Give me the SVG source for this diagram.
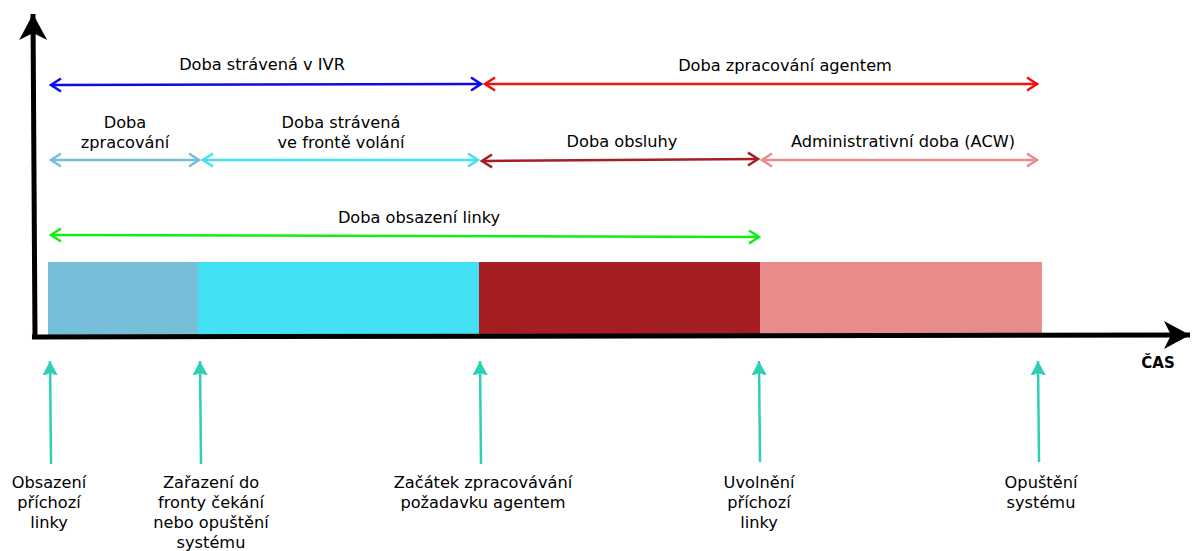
<svg xmlns="http://www.w3.org/2000/svg" width="1192" height="551" viewBox="0 0 1192 551">
  <style>
    text { font-family: "DejaVu Sans", "Liberation Sans", sans-serif; font-size: 16.2px; fill: #000; text-anchor: middle; }
    .span { fill: none; stroke-width: 2.5; }
    .event { fill: none; stroke: #2dd0b2; stroke-width: 2.5; }
    .axis { fill: none; stroke: #000; stroke-width: 5; }
  </style>
  <defs>
    <marker id="m-blue" markerUnits="userSpaceOnUse" viewBox="-12 -8 14 16" markerWidth="14" markerHeight="16" orient="auto-start-reverse" refX="0" refY="0">
      <path d="M-10,-6.5 L0,0 L-10,6.5" fill="none" stroke="#0b0bea" stroke-width="2.5"/>
    </marker>
    <marker id="m-red" markerUnits="userSpaceOnUse" viewBox="-12 -8 14 16" markerWidth="14" markerHeight="16" orient="auto-start-reverse" refX="0" refY="0">
      <path d="M-10,-6.5 L0,0 L-10,6.5" fill="none" stroke="#ee1111" stroke-width="2.5"/>
    </marker>
    <marker id="m-lblue" markerUnits="userSpaceOnUse" viewBox="-12 -8 14 16" markerWidth="14" markerHeight="16" orient="auto-start-reverse" refX="0" refY="0">
      <path d="M-10,-6.5 L0,0 L-10,6.5" fill="none" stroke="#75c0d8" stroke-width="2.5"/>
    </marker>
    <marker id="m-cyan" markerUnits="userSpaceOnUse" viewBox="-12 -8 14 16" markerWidth="14" markerHeight="16" orient="auto-start-reverse" refX="0" refY="0">
      <path d="M-10,-6.5 L0,0 L-10,6.5" fill="none" stroke="#44e1f4" stroke-width="2.5"/>
    </marker>
    <marker id="m-dred" markerUnits="userSpaceOnUse" viewBox="-12 -8 14 16" markerWidth="14" markerHeight="16" orient="auto-start-reverse" refX="0" refY="0">
      <path d="M-10,-6.5 L0,0 L-10,6.5" fill="none" stroke="#a51e22" stroke-width="2.5"/>
    </marker>
    <marker id="m-pink" markerUnits="userSpaceOnUse" viewBox="-12 -8 14 16" markerWidth="14" markerHeight="16" orient="auto-start-reverse" refX="0" refY="0">
      <path d="M-10,-6.5 L0,0 L-10,6.5" fill="none" stroke="#e88c8b" stroke-width="2.5"/>
    </marker>
    <marker id="m-green" markerUnits="userSpaceOnUse" viewBox="-12 -8 14 16" markerWidth="14" markerHeight="16" orient="auto-start-reverse" refX="0" refY="0">
      <path d="M-10,-6.5 L0,0 L-10,6.5" fill="none" stroke="#11ee11" stroke-width="2.5"/>
    </marker>
    <marker id="m-event" markerUnits="userSpaceOnUse" viewBox="-14 -9 16 18" markerWidth="16" markerHeight="18" orient="auto" refX="0" refY="0">
      <path d="M0,0 L-15,-8 L-12,0 L-15,8 Z" fill="#2dd0b2"/>
    </marker>
    <marker id="m-axis" markerUnits="userSpaceOnUse" viewBox="-30 -18 32 36" markerWidth="32" markerHeight="36" orient="auto" refX="0" refY="0">
      <path d="M0,0 L-26,-14 L-19,0 L-26,14 Z" fill="#000"/>
    </marker>
  </defs>

  <!-- phase bars -->
  <g id="phases">
    <rect x="48" y="262" width="150" height="73" fill="#75c0d8"/>
    <rect x="198" y="262" width="281" height="73" fill="#44e1f4"/>
    <rect x="479" y="262" width="281" height="73" fill="#a51e22"/>
    <rect x="760" y="262" width="282" height="73" fill="#e88c8b"/>
  </g>

  <!-- axes -->
  <g id="axes">
    <path class="axis" d="M35,339 L33,14" marker-end="url(#m-axis)"/>
    <path class="axis" d="M32,337 L1190,335" marker-end="url(#m-axis)"/>
    <text x="1158" y="368" style="font-weight:bold;font-size:15px">ČAS</text>
  </g>

  <!-- duration spans -->
  <g id="connectors">
    <path class="span" stroke="#0b0bea" d="M51,85 L481,84" marker-start="url(#m-blue)" marker-end="url(#m-blue)"/>
    <path class="span" stroke="#ee1111" d="M485,84 L1037,84" marker-start="url(#m-red)" marker-end="url(#m-red)"/>
    <path class="span" stroke="#75c0d8" d="M51,160 L199,160" marker-start="url(#m-lblue)" marker-end="url(#m-lblue)"/>
    <path class="span" stroke="#44e1f4" d="M203,160 L478,160" marker-start="url(#m-cyan)" marker-end="url(#m-cyan)"/>
    <path class="span" stroke="#a51e22" d="M482,161 L758,159" marker-start="url(#m-dred)" marker-end="url(#m-dred)"/>
    <path class="span" stroke="#e88c8b" d="M762,160 L1037,160" marker-start="url(#m-pink)" marker-end="url(#m-pink)"/>
    <path class="span" stroke="#11ee11" d="M51,235 L759,237" marker-start="url(#m-green)" marker-end="url(#m-green)"/>

    <path class="event" d="M51,464 L50,361" marker-end="url(#m-event)"/>
    <path class="event" d="M201,464 L200,361" marker-end="url(#m-event)"/>
    <path class="event" d="M481,464 L480,361" marker-end="url(#m-event)"/>
    <path class="event" d="M760,462 L759,361" marker-end="url(#m-event)"/>
    <path class="event" d="M1039,462 L1038,361" marker-end="url(#m-event)"/>
  </g>

  <!-- span labels -->
  <g id="label-ivr"><text x="262" y="70">Doba strávená v IVR</text></g>
  <g id="label-agent"><text x="785" y="71">Doba zpracování agentem</text></g>
  <g id="label-processing"><text x="125" y="128">Doba</text><text x="125" y="148">zpracování</text></g>
  <g id="label-queue"><text x="341" y="128">Doba strávená</text><text x="341" y="148">ve frontě volání</text></g>
  <g id="label-service"><text x="622" y="147">Doba obsluhy</text></g>
  <g id="label-acw"><text x="903" y="147">Administrativní doba (ACW)</text></g>
  <g id="label-line"><text x="419" y="223">Doba obsazení linky</text></g>

  <!-- event labels -->
  <g id="event-seize"><text x="49" y="488">Obsazení</text><text x="49" y="508">příchozí</text><text x="49" y="528">linky</text></g>
  <g id="event-queue"><text x="211" y="488">Zařazení do</text><text x="211" y="508">fronty čekání</text><text x="211" y="528">nebo opuštění</text><text x="211" y="548">systému</text></g>
  <g id="event-agent"><text x="483" y="488">Začátek zpracovávání</text><text x="483" y="508">požadavku agentem</text></g>
  <g id="event-release"><text x="759" y="488">Uvolnění</text><text x="759" y="508">příchozí</text><text x="759" y="528">linky</text></g>
  <g id="event-exit"><text x="1041" y="488">Opuštění</text><text x="1041" y="508">systému</text></g>
</svg>
